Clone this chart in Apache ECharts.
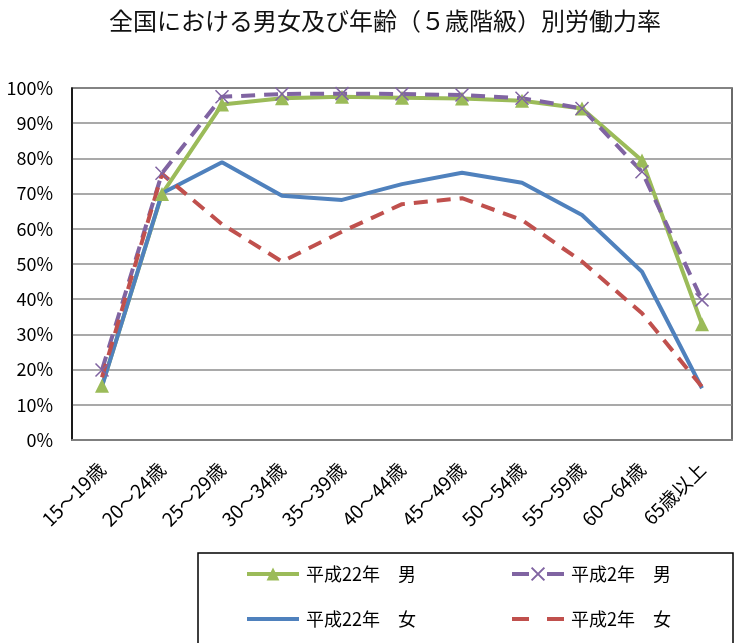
<!DOCTYPE html>
<html>
<head>
<meta charset="utf-8">
<script src="https://cdn.jsdelivr.net/npm/echarts@6/dist/echarts.min.js"></script>
<style>
  html, body { margin: 0; padding: 0; background: #fff; }
  #chart { width: 738px; height: 643px; }
</style>
</head>
<body>
<div id="chart"></div>
<script>
// Age groups on the horizontal axis
const categories = ['15～19歳', '20～24歳', '25～29歳', '30～34歳', '35～39歳', '40～44歳',
  '45～49歳', '50～54歳', '55～59歳', '60～64歳', '65歳以上'];

// Labour force participation rate (%) by sex and census year
const maleH22 = [15.4, 69.9, 95.3, 97.1, 97.5, 97.2, 97.0, 96.4, 94.2, 79.4, 32.9];
const maleH2 = [19.9, 75.8, 97.5, 98.3, 98.4, 98.3, 98.0, 97.1, 94.2, 76.2, 39.8];
const femaleH22 = [15.3, 70.1, 78.9, 69.4, 68.2, 72.7, 75.9, 73.1, 63.9, 47.8, 14.7];
const femaleH2 = [17.8, 75.6, 61.3, 50.7, 59.2, 67.0, 68.7, 62.5, 50.7, 36.0, 15.1];

// Percentage ticks on the vertical axis
const yTicks = { min: 0, max: 100, interval: 10 };

const seriesNames = ['平成22年　男', '平成2年　男', '平成22年　女', '平成2年　女'];

const FONT = '"Noto Sans CJK JP", "Noto Sans", sans-serif';
const crossPath = 'path://M0,0L10,10M10,0L0,10';
const DASH = [14, 9];
const LEGEND_DASH = [17, 18];

const chart = echarts.init(document.getElementById('chart'), null, { renderer: 'canvas' });

// One legend entry per block so the four entries sit in a 2 x 2 layout
function legendAt(name, left, top, lineType, hideSymbol) {
  return {
    data: [name],
    left: left,
    top: top,
    padding: 0,
    itemWidth: 52,
    itemHeight: 16,
    itemGap: 0,
    selectedMode: false,
    lineStyle: { width: 4, type: lineType },
    itemStyle: hideSymbol ? { opacity: 0 } : {},
    textStyle: { fontFamily: FONT, fontSize: 18, color: '#000', padding: [0, 0, 0, 2] }
  };
}

chart.setOption({
  animation: false,
  title: {
    text: '全国における男女及び年齢（５歳階級）別労働力率',
    left: 104,
    top: 4,
    textStyle: { fontFamily: FONT, fontSize: 24, fontWeight: 'normal', color: '#111' }
  },
  graphic: [{
    type: 'rect',
    shape: { x: 198, y: 553, width: 535, height: 95 },
    style: { fill: 'none', stroke: '#000', lineWidth: 1.5 },
    z: 0
  }],
  legend: [
    legendAt(seriesNames[0], 245, 565, 'solid', false),
    legendAt(seriesNames[1], 510, 565, LEGEND_DASH, false),
    legendAt(seriesNames[2], 245, 610, 'solid', true),
    legendAt(seriesNames[3], 510, 610, LEGEND_DASH, true)
  ],
  grid: {
    left: 72, top: 88, right: 6, bottom: 203,
    show: true, borderColor: '#3a3a3a', borderWidth: 1.5,
    containLabel: false
  },
  xAxis: {
    type: 'category',
    data: categories,
    boundaryGap: true,
    axisTick: { show: false },
    axisLine: { show: true, lineStyle: { color: '#7f7f7f', width: 2 } },
    axisLabel: {
      rotate: 45,
      margin: 26,
      interval: 0,
      fontFamily: FONT,
      fontSize: 19,
      color: '#000'
    },
    splitLine: { show: false }
  },
  yAxis: {
    type: 'value',
    min: yTicks.min,
    max: yTicks.max,
    interval: yTicks.interval,
    axisLine: { show: true, lineStyle: { color: '#000', width: 1.5 } },
    axisTick: { show: false },
    axisLabel: {
      formatter: '{value}%',
      margin: 19,
      fontFamily: FONT,
      fontSize: 18,
      color: '#000'
    },
    splitLine: { show: true, lineStyle: { color: '#8c8c8c', width: 1.5 } }
  },
  series: [
    {
      name: seriesNames[0],
      type: 'line',
      data: maleH22,
      symbol: 'triangle',
      symbolSize: 14,
      lineStyle: { color: '#9BBB59', width: 4 },
      itemStyle: { color: '#9BBB59' }
    },
    {
      name: seriesNames[1],
      type: 'line',
      data: maleH2,
      symbol: crossPath,
      symbolSize: 13,
      lineStyle: { color: '#8064A2', width: 4, type: DASH },
      itemStyle: { color: '#8064A2', borderColor: '#8064A2', borderWidth: 1.5 }
    },
    {
      name: seriesNames[2],
      type: 'line',
      data: femaleH22,
      symbol: 'none',
      showSymbol: false,
      lineStyle: { color: '#4F81BD', width: 4 },
      itemStyle: { color: '#4F81BD' }
    },
    {
      name: seriesNames[3],
      type: 'line',
      data: femaleH2,
      symbol: 'none',
      showSymbol: false,
      lineStyle: { color: '#C0504D', width: 4, type: DASH },
      itemStyle: { color: '#C0504D' }
    }
  ]
});
</script>
</body>
</html>
